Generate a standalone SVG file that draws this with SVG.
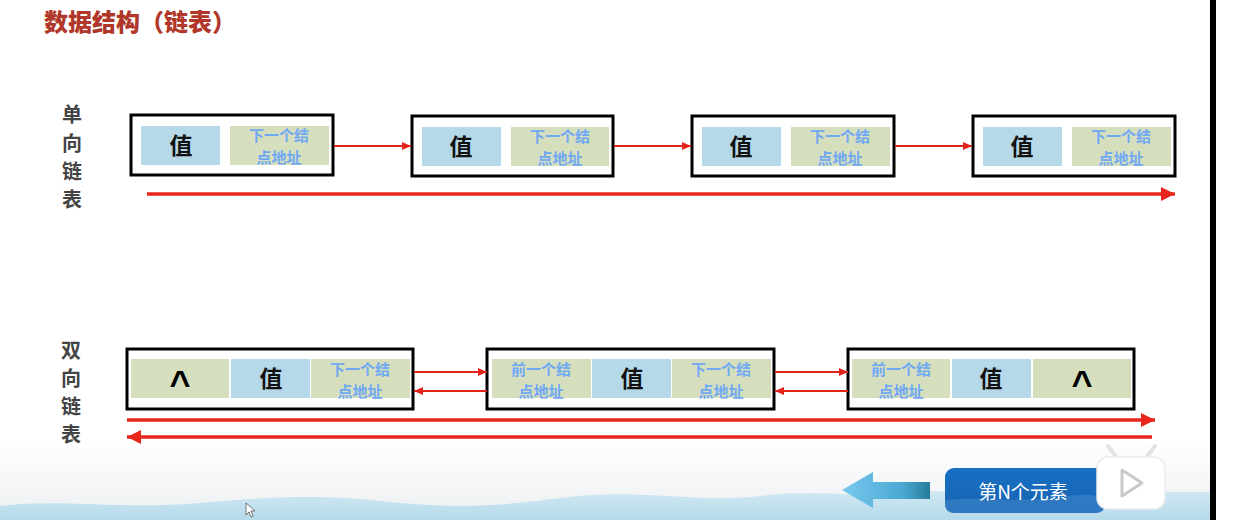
<svg xmlns="http://www.w3.org/2000/svg" width="1235" height="520" viewBox="0 0 1235 520">
<defs>
<style>
.box{fill:#fff;stroke:#000;stroke-width:3}
.val{fill:#b5d9e9}
.ptr{fill:#d6dfbd}
.vt{font-family:"Liberation Sans","Noto Sans CJK SC",sans-serif;font-weight:bold;font-size:23px;fill:#111;text-anchor:middle;dominant-baseline:central}
.pt{font-family:"Noto Sans CJK SC",sans-serif;font-weight:bold;font-size:15px;fill:#70a8f4;text-anchor:middle;dominant-baseline:central}
.nil{font-family:"Liberation Sans",sans-serif;font-weight:bold;font-size:36px;fill:#000;text-anchor:middle}
.lab{font-family:"Noto Sans CJK SC",sans-serif;font-weight:bold;font-size:20px;fill:#444;text-anchor:middle;dominant-baseline:central}
.thin{stroke:#e2231a;stroke-width:2;fill:none}
.thick{stroke:#e8261c;stroke-width:3.5;fill:none}
</style>
<marker id="ah" markerUnits="userSpaceOnUse" markerWidth="10" markerHeight="8" refX="9" refY="4" orient="auto">
<path d="M0,0 L9,4 L0,8 Z" fill="#e2231a"/>
</marker>
<marker id="ahL" markerUnits="userSpaceOnUse" markerWidth="16" markerHeight="14" refX="14" refY="7" orient="auto">
<path d="M0,0 L14,7 L0,14 Z" fill="#e8261c"/>
</marker>
<linearGradient id="fade" x1="0" y1="0" x2="0" y2="1">
<stop offset="0" stop-color="#ffffff"/>
<stop offset="1" stop-color="#eceff1"/>
</linearGradient>
<linearGradient id="mnt" x1="0" y1="0" x2="0" y2="1">
<stop offset="0" stop-color="#d0e8f2"/>
<stop offset="1" stop-color="#b5daea"/>
</linearGradient>
<linearGradient id="barrow" x1="0" y1="0" x2="1" y2="0">
<stop offset="0" stop-color="#78c8ee"/>
<stop offset="0.7" stop-color="#4aa8d2"/>
<stop offset="1" stop-color="#257c98"/>
</linearGradient>
<linearGradient id="btn" x1="0" y1="0" x2="0" y2="1">
<stop offset="0" stop-color="#1670c4"/>
<stop offset="1" stop-color="#1a62b0"/>
</linearGradient>
</defs>
<rect width="1235" height="520" fill="#fff"/>
<rect x="0" y="440" width="1210" height="80" fill="url(#fade)"/>
<path d="M0,506 C60,498 120,510 200,503 S320,495 380,501 S480,509 560,498 S700,504 760,496 S860,499 900,493 S1000,498 1060,492 L1210,492 L1210,520 L0,520 Z" fill="url(#mnt)"/>
<rect x="1210" y="0" width="6" height="520" fill="#000"/>

<text x="44" y="31" font-family="Noto Sans CJK SC, sans-serif" font-weight="900" font-size="24" fill="#b0372a">数据结构（链表）</text>

<g id="label-single">
<text class="lab" x="72" y="113">单</text>
<text class="lab" x="72" y="142">向</text>
<text class="lab" x="72" y="170">链</text>
<text class="lab" x="72" y="198">表</text>
</g>
<g id="label-double">
<text class="lab" x="71" y="349">双</text>
<text class="lab" x="71" y="377">向</text>
<text class="lab" x="71" y="405">链</text>
<text class="lab" x="71" y="433">表</text>
</g>

<g id="s1">
<rect class="box" x="131" y="115" width="202" height="60"/>
<rect class="val" x="141" y="126" width="79" height="39"/>
<rect class="ptr" x="230" y="126" width="99" height="39"/>
<text class="vt" x="181" y="146">值</text>
<text class="pt"><tspan x="279" y="134">下一个结</tspan><tspan x="279" y="156">点地址</tspan></text>
</g>
<g id="s2">
<rect class="box" x="412" y="116" width="201" height="60"/>
<rect class="val" x="422" y="127" width="79" height="39"/>
<rect class="ptr" x="511" y="127" width="98" height="39"/>
<text class="vt" x="461" y="147">值</text>
<text class="pt"><tspan x="560" y="135">下一个结</tspan><tspan x="560" y="157">点地址</tspan></text>
</g>
<g id="s3">
<rect class="box" x="692" y="116" width="202" height="60"/>
<rect class="val" x="702" y="127" width="79" height="39"/>
<rect class="ptr" x="791" y="127" width="99" height="39"/>
<text class="vt" x="741" y="147">值</text>
<text class="pt"><tspan x="840" y="135">下一个结</tspan><tspan x="840" y="157">点地址</tspan></text>
</g>
<g id="s4">
<rect class="box" x="973" y="116" width="202" height="60"/>
<rect class="val" x="983" y="127" width="79" height="39"/>
<rect class="ptr" x="1072" y="127" width="99" height="39"/>
<text class="vt" x="1022" y="147">值</text>
<text class="pt"><tspan x="1121" y="135">下一个结</tspan><tspan x="1121" y="157">点地址</tspan></text>
</g>

<g id="d1">
<rect class="box" x="127" y="349" width="286" height="60"/>
<rect class="ptr" x="131" y="359" width="98" height="39"/>
<rect class="val" x="231" y="359" width="79" height="39"/>
<rect class="ptr" x="311" y="359" width="99" height="39"/>
<text class="nil" x="180" y="396">^</text>
<text class="vt" x="271" y="379">值</text>
<text class="pt"><tspan x="360" y="368">下一个结</tspan><tspan x="360" y="390">点地址</tspan></text>
</g>
<g id="d2">
<rect class="box" x="487" y="349" width="287" height="60"/>
<rect class="ptr" x="492" y="359" width="99" height="39"/>
<rect class="val" x="592" y="359" width="79" height="39"/>
<rect class="ptr" x="672" y="359" width="99" height="39"/>
<text class="pt"><tspan x="541" y="368">前一个结</tspan><tspan x="541" y="390">点地址</tspan></text>
<text class="vt" x="632" y="379">值</text>
<text class="pt"><tspan x="721" y="368">下一个结</tspan><tspan x="721" y="390">点地址</tspan></text>
</g>
<g id="d3">
<rect class="box" x="848" y="349" width="286" height="60"/>
<rect class="ptr" x="852" y="359" width="98" height="39"/>
<rect class="val" x="952" y="359" width="79" height="39"/>
<rect class="ptr" x="1033" y="359" width="98" height="39"/>
<text class="pt"><tspan x="901" y="368">前一个结</tspan><tspan x="901" y="390">点地址</tspan></text>
<text class="vt" x="991" y="379">值</text>
<text class="nil" x="1082" y="396">^</text>
</g>

<g id="connectors">
<line class="thin" x1="334" y1="146" x2="411" y2="146" marker-end="url(#ah)"/>
<line class="thin" x1="614" y1="146" x2="691" y2="146" marker-end="url(#ah)"/>
<line class="thin" x1="895" y1="146" x2="972" y2="146" marker-end="url(#ah)"/>
<line class="thick" x1="147" y1="194" x2="1175" y2="194" marker-end="url(#ahL)"/>
<line class="thin" x1="414" y1="372" x2="487" y2="372" marker-end="url(#ah)"/>
<line class="thin" x1="487" y1="391" x2="414" y2="391" marker-end="url(#ah)"/>
<line class="thin" x1="775" y1="372" x2="848" y2="372" marker-end="url(#ah)"/>
<line class="thin" x1="848" y1="391" x2="775" y2="391" marker-end="url(#ah)"/>
<line class="thick" x1="127" y1="420" x2="1155" y2="420" marker-end="url(#ahL)"/>
<line class="thick" x1="1152" y1="437" x2="127" y2="437" marker-end="url(#ahL)"/>
</g>

<g id="nav-arrow">
<path d="M842,490 L873,472 L873,482 L930,482 L930,499 L873,499 L873,508 Z" fill="url(#barrow)"/>
</g>
<g id="button">
<rect x="945" y="468" width="160" height="45" rx="9" fill="url(#btn)"/>
<path d="M945,500 C980,496 1020,503 1060,497 S1095,499 1105,498 L1105,504 Q1105,513 1096,513 L954,513 Q945,513 945,504 Z" fill="#3d86cc" opacity="0.6"/>
<text x="1023" y="499" font-family="Noto Sans CJK SC, sans-serif" font-size="19" fill="#fff" text-anchor="middle">第N个元素</text>
</g>
<g id="tv-icon">
<path d="M1117,458 L1108,446 M1146,458 L1155,446" stroke="#e4e4e4" stroke-width="4" stroke-linecap="round"/>
<rect x="1097" y="457" width="68" height="52" rx="11" fill="#fff" stroke="#ececec" stroke-width="1.5"/>
<path d="M1122,470 L1142,483 L1122,496 Z" fill="none" stroke="#c9c9c9" stroke-width="3" stroke-linejoin="round"/>
</g>
<path d="M246,503 L246,515 L249,512 L251,517 L253,516 L251,511 L255,511 Z" fill="#fff" stroke="#555" stroke-width="0.8"/>
</svg>
